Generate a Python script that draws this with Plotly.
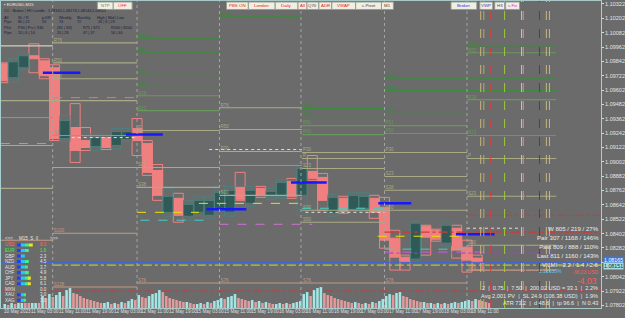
import plotly.graph_objects as go

FONT = "Liberation Sans"
BG = "#6b6b6b"
W, H = 625, 318
ML, MR, MT, MB = 0, 21, 0, 10
PW, PH = W - ML - MR, H - MT - MB

# ---------------- DATA ----------------
# 3-hour candles; x axis = trading hours since 10 May 2023 19:00 (weekend removed)
candle_idx = list(range(-1, 46))
c_open = [1.09822, 1.09705, 1.09789, 1.09889, 1.09847, 1.09789, 1.09197, 1.09289, 1.09180, 1.09130,
          1.09197, 1.09139, 1.09189, 1.09280, 1.09155, 1.08930, 1.08580, 1.08697, 1.08547, 1.08580,
          1.08555, 1.08597, 1.08580, 1.08789, 1.08655, 1.08780, 1.08714, 1.08714, 1.08839, 1.08722,
          1.08922, 1.08872, 1.08572, 1.08697, 1.08605, 1.08614, 1.08697, 1.08622, 1.08364, 1.08205,
          1.08189, 1.08464, 1.08430, 1.08322, 1.08447, 1.08289, 1.08197]
c_high = [1.09830, 1.09864, 1.09905, 1.09989, 1.09864, 1.09814, 1.09389, 1.09489, 1.09289, 1.09239,
          1.09205, 1.09280, 1.09280, 1.09364, 1.09180, 1.08980, 1.08780, 1.08739, 1.08680, 1.08714,
          1.08714, 1.08805, 1.08797, 1.08914, 1.08797, 1.08797, 1.08780, 1.08855, 1.08864, 1.08989,
          1.09055, 1.08905, 1.08730, 1.08714, 1.08747, 1.08747, 1.08722, 1.08705, 1.08430, 1.08222,
          1.08505, 1.08472, 1.08439, 1.08497, 1.08472, 1.08347, 1.08222]
c_low = [1.09664, 1.09672, 1.09772, 1.09747, 1.09697, 1.09180, 1.09172, 1.08997, 1.09097, 1.09097,
         1.09105, 1.09114, 1.09172, 1.09055, 1.08889, 1.08680, 1.08547, 1.08497, 1.08514, 1.08555,
         1.08530, 1.08555, 1.08547, 1.08680, 1.08630, 1.08705, 1.08689, 1.08697, 1.08697, 1.08555,
         1.08847, 1.08597, 1.08547, 1.08572, 1.08589, 1.08589, 1.08530, 1.08280, 1.08097, 1.08097,
         1.08172, 1.08222, 1.08339, 1.08297, 1.08197, 1.08080, 1.08097]
c_close = [1.09680, 1.09839, 1.09889, 1.09864, 1.09722, 1.09197, 1.09347, 1.09097, 1.09122, 1.09205,
           1.09122, 1.09255, 1.09255, 1.09180, 1.08914, 1.08722, 1.08714, 1.08555, 1.08647, 1.08680,
           1.08680, 1.08747, 1.08764, 1.08689, 1.08764, 1.08722, 1.08755, 1.08830, 1.08714, 1.08947,
           1.08864, 1.08680, 1.08705, 1.08589, 1.08722, 1.08714, 1.08580, 1.08347, 1.08205, 1.08164,
           1.08489, 1.08372, 1.08355, 1.08472, 1.08264, 1.08180, 1.08162]

# hourly tick volume (hundreds)
vol = [4, 3, 5, 4, 6, 8, 6, 5,
       7, 9, 8, 12, 10, 14, 11,
       13, 16, 12, 18, 20, 15, 14, 12,
       10, 9, 8, 7, 6, 5, 5, 6,
       4, 5, 4, 6, 5, 7, 9, 8,
       13, 11, 10, 12, 14, 15, 18, 16,
       12, 10, 9, 8, 7, 6, 6, 5,
       4, 4, 5, 4, 6, 5, 7, 8,
       10, 9, 11, 12, 14, 10, 9, 8,
       7, 8, 6, 7, 5, 6, 5, 4,
       4, 5, 4, 5, 4, 5, 6, 7,
       14, 16, 12, 18, 20, 21, 15, 13,
       12, 10, 9, 8, 7, 6, 5, 6,
       5, 4, 5, 4, 6, 5, 7, 9,
       12, 14, 13, 15, 16, 12, 11, 9,
       8, 7, 6, 6, 5, 5, 4, 5,
       4, 5, 4, 5, 6, 5, 6, 7,
       8, 7, 9, 8, 7, 6, 5]

price_ticks = [1.10322, 1.10202, 1.10082, 1.09962, 1.09842, 1.09722, 1.09602, 1.09482, 1.09362,
               1.09242, 1.09122, 1.09002, 1.08882, 1.08762, 1.08642, 1.08522, 1.08402, 1.08282,
               1.08162, 1.08042, 1.07922, 1.07802]
time_hours = [0, 8, 16, 24, 32, 40, 48, 56, 64, 72, 80, 88, 96, 104, 112, 120, 128, 136]
time_text = ["10 May 2023", "11 May 03:00", "11 May 11:00", "11 May 19:00", "12 May 03:00",
             "12 May 11:00", "12 May 19:00", "15 May 03:00", "15 May 11:00", "15 May 19:00",
             "16 May 03:00", "16 May 11:00", "16 May 19:00", "17 May 03:00", "17 May 11:00",
             "17 May 19:00", "18 May 03:00", "18 May 11:00"]

# horizontal levels
lvl_from = [-0.6, -0.6, -0.6, -0.6, -0.6, -0.6,
            14.5, 14.5, 14.5, 14.5, 14.5, 14.5, 14.5, 14.5,
            39, 39, 39, 39, 39, 39, 39, 39, 39, 39,
            63, 63, 63, 63, 63, 63, 63,
            87, 87, 87, 87, 87, 87, 87, 87, 87, 87,
            111, 111, 111, 111, 111, 111, 111, 111, 111, 111,
            135, 135, 135, 135, 135, 135, 135, 135,
            57, 109, 39, -0.6, 40, 111, 87, 60, 88, 20, 135, 14.5, 63, 111,
            -0.6, 135, 111, 14.5, 111]
lvl_to = [14.5, 14.5, 14.5, 14.5, 14.5, 14.5,
          39, 39, 39, 39, 39, 39, 39, 39,
          63, 63, 63, 63, 63, 63, 63, 63, 63, 63,
          87, 87, 87, 87, 87, 87, 87,
          111, 111, 111, 111, 111, 111, 111, 111, 111, 111,
          161, 161, 135, 135, 135, 135, 135, 135, 135, 135,
          161, 161, 161, 161, 161, 161, 161, 161,
          87, 135, 57, 14.5, 60, 135, 111, 87, 111, 39, 150, 40, 90, 140,
          174, 174, 174, 174, 160]
lvl_price = [1.09972, 1.09514, 1.09372, 1.09139, 1.08780, 1.08347,
             1.09997, 1.09830, 1.09697, 1.09514, 1.09222, 1.08955, 1.08405, 1.07955,
             1.10030, 1.09914, 1.09739, 1.09639, 1.09555, 1.09430, 1.09264, 1.08955, 1.08789, 1.07989,
             1.10214, 1.09455, 1.09272, 1.09089, 1.08972, 1.08722, 1.07989,
             1.09447, 1.09372, 1.09305, 1.09230, 1.09080, 1.09030, 1.08947, 1.08597, 1.08497, 1.07989,
             1.09697, 1.09597, 1.09422, 1.09305, 1.09239, 1.09080, 1.08880, 1.08764, 1.08597, 1.07989,
             1.09972, 1.09914, 1.09522, 1.09222, 1.09030, 1.08714, 1.08305, 1.08097,
             1.08655, 1.08380, 1.08580, 1.09155, 1.08514, 1.08272, 1.08614, 1.09105, 1.08580, 1.09205,
             1.08447, 1.09539, 1.08480, 1.08247,
             1.07922, 1.08555, 1.08414, 1.08139, 1.08239]
lvl_style = ["wh", "kh", "gy", "kh", "kh", "tan",
             "kh", "kh", "kh", "kh", "gy", "kh", "tan", "tan",
             "gr", "gr", "gr", "gr", "lg", "lg", "kh", "kh", "kh", "tan",
             "gr", "kh", "kh", "kh", "gy", "kh", "tan",
             "gr", "gr", "lg", "lg", "kh", "kh", "kh", "kh", "kh", "tan",
             "gr", "gr", "gr", "lg", "lg", "kh", "kh", "kh", "kh", "tan",
             "gr", "lg", "lg", "lg", "kh", "kh", "kh", "tan",
             "yd", "yd", "yd", "cd", "cd", "cd", "cd", "wd", "wd", "wd", "wd", "od", "od", "od",
             "rd", "rd", "rd", "ygd", "pd"]
lvl_label = ["", "", "", "", "", "",
             "R76", "R50", "P30", "P", "S1", "", "S100", "S138",
             "R100", "R76", "R61", "R50", "R38", "R23", "P", "S23", "S38", "S76",
             "R167", "R76", "R50", "P30", "", "S30", "S76",
             "R100", "R76", "R61", "R50", "P30", "P", "S23", "S30", "S50", "S76",
             "R161", "R138", "R76", "R61", "R50", "P30", "S23", "S38", "S50", "S76",
             "R61.4", "R50", "R38", "R23", "P", "S23", "S50", "S76",
             "", "", "", "", "", "", "", "", "", "", "", "", "", "",
             "", "", "", "", ""]

blue_from = [11.6, 35.8, 59.2, 83.8, 109.2, 131.8]
blue_to = [22.5, 46.5, 70.8, 94.2, 118.8, 143.0]
blue_price = [1.09747, 1.09230, 1.08605, 1.08830, 1.08655, 1.08397]
current_price = 1.08162

day_sep = [14.45, 39.0, 63.0, 86.7, 111.0, 135.0]
vert_x = [139.0, 139.9, 141.9, 145.95, 150.9, 151.4, 152.0, 156.1, 158.1, 159.0]
vert_col = ["#c8b878", "#b8a868", "#d04040", "#9acd32", "#c8c8c8", "#a0a0a0", "#d04040",
            "#3030ff", "#c8b878", "#c8b878"]

ccy_names = ["USD", "EUR", "GBP", "NZD", "AUD", "CHF", "JPY", "CAD", "MXN", "XAU", "XAG"]
ccy_vals = [8.0, 1.6, 2.3, 4.5, 3.7, 4.9, 5.8, 6.1, 0.0, 3.0, 3.0]
ccy_bar = [16, 12, 8, 12, 11, 12, 14, 14, 0, 9, 9]

# ---------------- STYLE ----------------
PINK = "#f08080"
TEAL = "#2f5a57"
TEAL_L = "#4f7f7c"
VUP = "#a2e6e6"
VDN = "#e09c9c"
styles = {
    "wh": ("#cfcfc2", 1.2, "solid"), "kh": ("#aaaa86", 1.1, "solid"), "gy": ("#959590", 1.0, "solid"),
    "tan": ("#c49a84", 1.1, "solid"), "gr": ("#3c8a3c", 1.2, "solid"), "lg": ("#68985a", 1.1, "solid"),
    "yd": ("#e6e600", 1, "dash"), "cd": ("#40d0c8", 1, "dash"), "wd": ("#e0e0e0", 1, "dot"),
    "od": ("#d070d0", 1, "dash"), "rd": ("#d03a3a", 1.2, "dashdot"), "ygd": ("#a8d030", 1.2, "dashdot"),
    "pd": ("#9a48c8", 1, "dashdot"),
}
under = ["wh", "kh", "gy", "tan", "gr", "lg"]
over = ["yd", "cd", "wd", "od", "rd", "ygd", "pd"]

fig = go.Figure()

# volume
vol_x = [h + 0.5 for h in range(len(vol))]
vol_col = [VUP if (k == 0 or vol[k] >= vol[k - 1]) else VDN for k in range(len(vol))]
fig.add_trace(go.Bar(x=vol_x, y=vol, width=0.75, yaxis="y2",
                     marker=dict(color=vol_col, line=dict(width=0)), hoverinfo="skip"))


def add_levels(style_keys):
    for s in style_keys:
        col, w, d = styles[s]
        xs, ys = [], []
        for a, b, p, st in zip(lvl_from, lvl_to, lvl_price, lvl_style):
            if st == s:
                xs += [a, b, None]
                ys += [p, p, None]
        if xs:
            fig.add_trace(go.Scatter(x=xs, y=ys, mode="lines", line=dict(color=col, width=w, dash=d),
                                     hoverinfo="skip"))


add_levels(under)

# level labels
lx, ly, lt, lc = [], [], [], []
for a, p, st, lab in zip(lvl_from, lvl_price, lvl_style, lvl_label):
    if lab:
        lx.append(a + 0.3)
        ly.append(p)
        lt.append(lab)
        lc.append(styles[st][0])
fig.add_trace(go.Scatter(x=lx, y=ly, text=lt, mode="text", textposition="top right",
                         textfont=dict(size=4.5, color=lc, family=FONT), hoverinfo="skip"))

# candles
xc = [3 + 3 * i for i in candle_idx]
up = [c >= o for o, c in zip(c_open, c_close)]
for flag, lcol, fcol in [(False, PINK, PINK), (True, TEAL_L, TEAL)]:
    sel = [k for k in range(len(xc)) if up[k] == flag]
    fig.add_trace(go.Bar(x=[xc[k] for k in sel], base=[c_low[k] for k in sel],
                         y=[c_high[k] - c_low[k] for k in sel], width=2.9,
                         marker=dict(color="rgba(0,0,0,0)", line=dict(color=lcol, width=1)),
                         hoverinfo="skip"))
    fig.add_trace(go.Bar(x=[xc[k] for k in sel], base=[min(c_open[k], c_close[k]) for k in sel],
                         y=[abs(c_close[k] - c_open[k]) for k in sel], width=2.9,
                         marker=dict(color=fcol, line=dict(color=lcol, width=1)),
                         hoverinfo="skip"))

add_levels(over)

# blue short lines
bx, by = [], []
for a, b, p in zip(blue_from, blue_to, blue_price):
    bx += [a, b, None]
    by += [p, p, None]
fig.add_trace(go.Scatter(x=bx, y=by, mode="lines", line=dict(color="#1818ff", width=2.5), hoverinfo="skip"))
fig.add_trace(go.Scatter(x=[-0.6, 174], y=[current_price, current_price], mode="lines",
                         line=dict(color="#3c64e6", width=1), hoverinfo="skip"))

# vertical lines
for h in day_sep:
    fig.add_vline(x=h, line=dict(color="#a4a4a4", width=1, dash="dot"))
for h, c in zip(vert_x, vert_col):
    fig.add_vline(x=h, line=dict(color=c, width=1, dash="dash"))

# currency strength panel
seg_cols = ["#2040ff", "#20c8ff", "#40f080", "#e8e820"]
rows = list(range(len(ccy_names)))
for k, sc in enumerate(seg_cols):
    lens = [max(0, min(4, L - 4 * k)) for L in ccy_bar]
    fig.add_trace(go.Bar(y=rows, x=lens, base=[4 * k] * len(rows), orientation="h", width=0.55,
                         marker=dict(color=sc, line=dict(width=0)), xaxis="x3", yaxis="y3",
                         hoverinfo="skip"))

# the live price is shown in boxes on the axis, so its own tick text is left blank
tick_text = ["" if abs(v - current_price) < 1e-6 else f"{v:.5f}" for v in price_ticks]

fig.update_layout(
    width=W, height=H, margin=dict(l=ML, r=MR, t=MT, b=MB),
    paper_bgcolor=BG, plot_bgcolor=BG, showlegend=False, barmode="overlay", hovermode=False,
    font=dict(family=FONT),
    xaxis=dict(range=[-0.58, 174.0], showgrid=False, zeroline=False, showticklabels=False,
               showline=True, linecolor="#a8c8c8", linewidth=1, mirror=True, ticks=""),
    yaxis=dict(range=[1.07780, 1.10347], side="right", tickvals=price_ticks, ticktext=tick_text,
               tickfont=dict(size=5.5, color="#e4e4e4", family=FONT), ticks="outside", ticklen=2,
               tickcolor="#d0e0e0", showgrid=False, zeroline=False, showline=True,
               linecolor="#a8d0d0", mirror=True),
    yaxis2=dict(range=[0, 308], overlaying="y", visible=False),
    xaxis3=dict(domain=[16 / PW, 40 / PW], range=[0, 24], visible=False, anchor="y3"),
    yaxis3=dict(domain=[1 - 303 / PH, 1 - 242 / PH], range=[10.5, -0.5], visible=False, anchor="x3"),
)


def ann(px, py, text, size, color, xanchor="left", bg=None):
    fig.add_annotation(x=px / PW, y=1 - py / PH, xref="paper", yref="paper", text=text,
                       showarrow=False, xanchor=xanchor, yanchor="middle", borderpad=0,
                       bgcolor=bg, font=dict(size=size, color=color, family=FONT))


# time labels
for h, t in zip(time_hours, time_text):
    fig.add_annotation(x=h, y=-0.013, xref="x", yref="paper", text=t, showarrow=False,
                       xanchor="left", yanchor="middle", borderpad=0,
                       font=dict(size=4.6, color="#e0e0e0", family=FONT))

# currency labels
ccy_col = {"USD": "#ff6a6a", "EUR": "#40f040"}
for k, (n, v) in enumerate(zip(ccy_names, ccy_vals)):
    c = ccy_col.get(n, "#e4e4e4")
    fig.add_annotation(x=3 / PW, y=k, xref="paper", yref="y3", text=n, showarrow=False,
                       xanchor="left", yanchor="middle", borderpad=0, font=dict(size=4.5, color=c, family=FONT))
    fig.add_annotation(x=38 / PW, y=k, xref="paper", yref="y3", text=f"{v:.1f}", showarrow=False,
                       xanchor="left", yanchor="middle", borderpad=0, font=dict(size=4.5, color=c, family=FONT))
ann(3, 238, "&lt;&lt;&lt;", 4.5, "#e8e8e8")
ann(17, 238, "M15  S  II", 4.5, "#e8e8e8")
ann(48, 238, "&gt;&gt;&gt;", 4.5, "#e8e8e8")

# top-left info block
NAVY = "#18183e"
ann(2, 4, "▪ EURUSD,M15", 4.2, "#e8e8e8")
ann(2, 10, "CC : Broker | HO candle : 1.08165,1.08178,1.08144,1.08151", 3.8, NAVY)
for x, t in [(2, "All"), (16, "SL / R"), (40, "p.DR"), (57, "Weekly"), (75, "Monthly"), (96, "High | Mid | Low")]:
    ann(x, 17, t, 3.8, NAVY)
for x, t in [(2, "Pips"), (16, "80 | 22"), (40, "53"), (57, "74"), (75, "72"), (97, "26 | 6 | 29")]:
    ann(x, 21.5, t, 3.8, NAVY)
for x, t in [(2, "PDs"), (16, "P30 | Prv | S30"), (55, "(S1 | S3)"), (82, "R75 | S75"), (110, "R100 | S100")]:
    ann(x, 27, t, 3.8, NAVY)
for x, t in [(2, "Pips"), (16, "20 | 6 | 16"), (55, "20 | 28"), (82, "47 | 37"), (110, "50 | 40")]:
    ann(x, 32, t, 3.8, NAVY)

# buttons
btns = [(97, 113, "NTP", "#7a7a7a"), (113, 132, "OFF", "#ff2020"),
        (227, 249, "PBS ON", "#e82020"), (249, 276, "London", "#e82020"), (276, 299, "Daily", "#e82020"),
        (299, 308, "All", "#e82020"), (308, 320, "Q70", "#404040"), (320, 333, "ADR", "#e82020"),
        (333, 357, "VWAP", "#e82020"), (357, 383, "c.Pivot", "#404040"), (383, 395, "M1", "#404040"),
        (453, 479, "Broker", "#2828f0"), (482, 495, "VWP", "#3838b0"), (497, 507, "H3", "#3838b0"),
        (508, 522, "s.Fix", "#e020e0")]
for x0, x1, t, c in btns:
    fig.add_shape(type="rect", xref="paper", yref="paper", x0=x0 / PW, x1=x1 / PW,
                  y0=1 - 8.5 / PH, y1=1 - 1 / PH, fillcolor="#f0efe4", line=dict(color="#9a9a90", width=1))
    ann((x0 + x1) / 2, 4.8, t, 4.4, c, xanchor="center")

# right-hand statistics
for y, t in [(228, "W 805 / 219 / 27%"), (237, "Pair 307 / 1168 / 146%"), (246, "Past 809 / 888 / 110%"),
             (255, "Last 811 / 1160 / 143%"), (264, "V.LMI : 2.2 / 1.4 / 2.6")]:
    ann(603, y, t, 6.1, "#ececec", xanchor="right")
ann(541, 271, "1.22530%", 5, "#60c8e8")
ann(603, 272, "-36.23 USD", 5, "#ff5a5a", xanchor="right")
ann(601, 281, "-4.03", 8.5, "#ff5a5a", xanchor="right")
ann(602, 288, "2  |  0.75  |  7.50  |  200.02 USD = 33.1  |  2.2%", 5.6, "#e8e8e8", xanchor="right")
ann(602, 296, "Avg 2,001 PV  |  SL 24.9 (106.38 USD)  |  1.9%", 5.6, "#e8e8e8", xanchor="right")
ann(602, 303, "ATR 73.2  |  d 48.6  |  tp 96.6  |  N 0.43", 5.6, "#e8e8e8", xanchor="right")

# price boxes on the axis
ann(606, 259.5, "1.08165", 5.3, "#ffffff", bg="#3a78d8")
ann(606, 265.5, "1.08151", 5.3, "#203030", bg="#a8dcdc")

fig.write_html("out.html")
